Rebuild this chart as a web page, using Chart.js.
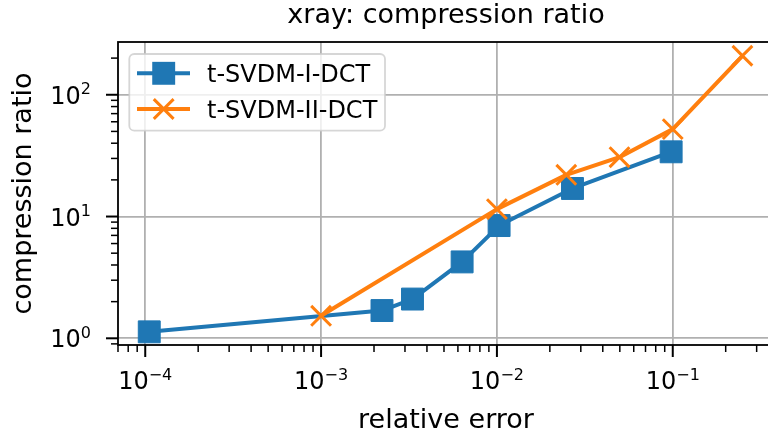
<!DOCTYPE html>
<html>
<head>
<meta charset="utf-8">
<script src="https://cdn.jsdelivr.net/npm/chart.js@4.4.1/dist/chart.umd.min.js"></script>
<style>
  html, body { margin: 0; padding: 0; overflow: hidden; background: #fff; }
  #wrap { width: 774px; height: 440px; }
</style>
</head>
<body>
<div id="wrap"><canvas id="ratioChart" width="774" height="440"></canvas></div>
<script>
// xray: compression ratio vs relative error
const seriesNames = ['t-SVDM-I-DCT', 't-SVDM-II-DCT'];
const dctIErr = [1.054e-4, 2.22e-3, 3.31e-3, 6.34e-3, 1.029e-2, 2.69e-2, 9.79e-2];
const dctIRatio = [1.13, 1.69, 2.10, 4.24, 8.43, 17.0, 34.0];
const dctIIErr = [1e-3, 1e-2, 2.48e-2, 4.98e-2, 1e-1, 2.49e-1];
const dctIIRatio = [1.53, 11.5, 22.0, 30.7, 52.2, 209];

const xTickValues = [1e-4, 1e-3, 1e-2, 1e-1];
const xTickExps = ['\u22124', '\u22123', '\u22122', '\u22121'];
const yTickValues = [1, 10, 100];
const yTickExps = ['0', '1', '2'];

const BLUE = '#1f77b4';
const ORANGE = '#ff7f0e';
const FONT = "'DejaVu Sans'";

const toPoints = (xs, ys) => xs.map((x, i) => ({ x: x, y: ys[i] }));

// 1..9 x 10^e ticks covering [min, max]
function logTicks(min, max) {
    const out = [];
    for (let e = Math.floor(Math.log10(min)); e <= Math.ceil(Math.log10(max)); e++) {
        for (let m = 1; m <= 9; m++) {
            const v = Number(m + 'e' + e);
            if (v >= min && v <= max) out.push({ value: v, major: m === 1 });
        }
    }
    return out;
}

function drawPow(ctx, exp, x, y, align) {
    ctx.font = '24px ' + FONT;
    const wBase = ctx.measureText('10').width;
    ctx.font = '16px ' + FONT;
    const wExp = ctx.measureText(exp).width;
    const total = wBase + wExp;
    const start = align === 'center' ? x - total / 2 : x - total;
    ctx.textAlign = 'left';
    ctx.textBaseline = 'alphabetic';
    ctx.font = '24px ' + FONT;
    ctx.fillText('10', start, y);
    ctx.font = '16px ' + FONT;
    ctx.fillText(exp, start + wBase, y - 9.5);
}

const axisDecor = {
    id: 'axisDecor',
    afterDraw(chart) {
        const ctx = chart.ctx;
        const area = chart.chartArea;
        const xs = chart.scales.x;
        const ys = chart.scales.y;
        ctx.save();
        ctx.strokeStyle = '#000';
        ctx.fillStyle = '#000';

        // outward tick marks
        xs.ticks.forEach(t => {
            const px = xs.getPixelForValue(t.value);
            ctx.lineWidth = t.major ? 2 : 1.5;
            ctx.beginPath();
            ctx.moveTo(px, area.bottom);
            ctx.lineTo(px, area.bottom + (t.major ? 12 : 7));
            ctx.stroke();
        });
        ys.ticks.forEach(t => {
            const py = ys.getPixelForValue(t.value);
            ctx.lineWidth = t.major ? 2 : 1.5;
            ctx.beginPath();
            ctx.moveTo(area.left, py);
            ctx.lineTo(area.left - (t.major ? 12 : 7), py);
            ctx.stroke();
        });

        // frame
        ctx.lineWidth = 1.8;
        ctx.strokeRect(area.left, area.top, area.right - area.left, area.bottom - area.top);

        // tick labels
        xTickValues.forEach((v, i) => {
            drawPow(ctx, xTickExps[i], xs.getPixelForValue(v), 389, 'center');
        });
        yTickValues.forEach((v, i) => {
            drawPow(ctx, yTickExps[i], 91, ys.getPixelForValue(v) + 9, 'right');
        });

        // legend
        const bx = 129.3, by = 54, bw = 255.7, bh = 76.7;
        ctx.beginPath();
        ctx.roundRect(bx, by, bw, bh, 5);
        ctx.fillStyle = 'rgba(255,255,255,0.8)';
        ctx.fill();
        ctx.lineWidth = 1.8;
        ctx.strokeStyle = 'rgba(204,204,204,0.8)';
        ctx.stroke();

        const rows = [73.3, 109];
        chart.data.datasets.forEach((ds, i) => {
            const ry = rows[i];
            ctx.strokeStyle = ds.borderColor;
            ctx.lineWidth = ds.borderWidth;
            ctx.beginPath();
            ctx.moveTo(137, ry);
            ctx.lineTo(190, ry);
            ctx.stroke();
            const mx = 163.7;
            if (ds.pointStyle === 'rect') {
                const s = ds.pointRadius * Math.SQRT1_2 + 0.5;
                ctx.fillStyle = ds.borderColor;
                ctx.fillRect(mx - s, ry - s, 2 * s, 2 * s);
            } else {
                const s = ds.pointRadius * Math.SQRT1_2;
                ctx.lineWidth = ds.pointBorderWidth;
                ctx.beginPath();
                ctx.moveTo(mx - s, ry - s); ctx.lineTo(mx + s, ry + s);
                ctx.moveTo(mx - s, ry + s); ctx.lineTo(mx + s, ry - s);
                ctx.stroke();
            }
            ctx.fillStyle = '#000';
            ctx.font = '24px ' + FONT;
            ctx.textAlign = 'left';
            ctx.textBaseline = 'alphabetic';
            ctx.fillText(ds.label, 207, ry + 9);
        });
        ctx.restore();
    }
};

const gridColor = c => (c.tick && c.tick.major) ? '#b0b0b0' : 'rgba(0,0,0,0)';

const ctxRatio = document.getElementById('ratioChart').getContext('2d');
const ratioChart = new Chart(ctxRatio, {
    type: 'line',
    data: {
        datasets: [{
            label: seriesNames[0],
            data: toPoints(dctIErr, dctIRatio),
            borderColor: BLUE,
            backgroundColor: BLUE,
            borderWidth: 4,
            borderJoinStyle: 'round',
            pointStyle: 'rect',
            pointRadius: 15.5,
            pointBackgroundColor: BLUE,
            pointBorderColor: BLUE,
            pointBorderWidth: 1,
            order: 2
        }, {
            label: seriesNames[1],
            data: toPoints(dctIIErr, dctIIRatio),
            borderColor: ORANGE,
            backgroundColor: ORANGE,
            borderWidth: 4,
            borderJoinStyle: 'round',
            pointStyle: 'crossRot',
            pointRadius: 14,
            pointBorderColor: ORANGE,
            pointBorderWidth: 3,
            order: 1
        }]
    },
    options: {
        responsive: false,
        animation: false,
        layout: { padding: 0, autoPadding: false },
        plugins: {
            legend: { display: false },
            tooltip: { enabled: false },
            title: {
                display: true,
                text: 'xray: compression ratio',
                color: '#000',
                fullSize: false,
                font: { family: FONT, size: 27, weight: 'normal' },
                padding: { top: 0, bottom: 9.6 }
            }
        },
        scales: {
            x: {
                type: 'logarithmic',
                min: 7.09e-5,
                max: 0.3765,
                afterBuildTicks: axis => { axis.ticks = logTicks(axis.min, axis.max); },
                afterFit: scale => { scale.height = 95; },
                ticks: { display: false, autoSkip: false },
                grid: { color: gridColor, lineWidth: 1.8, drawTicks: false },
                border: { display: false },
                title: {
                    display: true,
                    text: 'relative error',
                    color: '#000',
                    font: { family: FONT, size: 27 },
                    padding: { top: 0, bottom: 3 }
                }
            },
            y: {
                type: 'logarithmic',
                min: 0.881,
                max: 271.2,
                afterBuildTicks: axis => { axis.ticks = logTicks(axis.min, axis.max); },
                afterFit: scale => { scale.width = 118; },
                ticks: { display: false, autoSkip: false },
                grid: { color: gridColor, lineWidth: 1.8, drawTicks: false },
                border: { display: false },
                title: {
                    display: true,
                    text: 'compression ratio',
                    color: '#000',
                    font: { family: FONT, size: 27 },
                    padding: { top: 8, bottom: 0 }
                }
            }
        }
    },
    plugins: [axisDecor]
});
</script>
</body>
</html>
